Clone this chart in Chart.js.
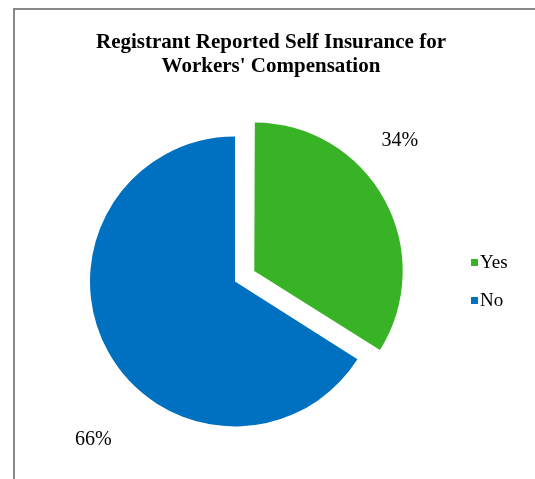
<!DOCTYPE html>
<html>
<head>
<meta charset="utf-8">
<script src="https://cdn.jsdelivr.net/npm/chart.js"></script>
<style>
  html, body { margin: 0; padding: 0; background: #fff; }
  #wrap { width: 535px; height: 479px; }
</style>
</head>
<body>
<div id="wrap"><canvas id="selfIns" width="535" height="479"></canvas></div>
<script>
var titleLines = ["Registrant Reported Self Insurance for", "Workers' Compensation"];
var categories = ['Yes', 'No'];
var shares = [34, 66];
var sliceColors = ['#38b326', '#0070c0'];
// arc offset option, in Chart.js units (the slice moves by a quarter of it)
var sliceOffsets = [88, 0];

// where each percent label sits: angle (deg, clockwise from top) and distance in radii
var labelAnchors = [
  { angle: 48, dist: 1.35 },
  { angle: 222, dist: 1.46 }
];

var serif = "'Liberation Serif', 'Times New Roman', serif";

var decor_plug = {
  beforeDraw: function(chart) {
    var ctx = chart.ctx;
    ctx.save();
    ctx.fillStyle = '#fff';
    ctx.fillRect(0, 0, chart.width, chart.height);
    // frame
    ctx.strokeStyle = '#888888';
    ctx.lineWidth = 2;
    ctx.strokeRect(14, 9, chart.width + 20, chart.height + 20);

    // title
    ctx.fillStyle = '#000';
    ctx.font = "bold 21px " + serif;
    ctx.textAlign = 'center';
    ctx.textBaseline = 'alphabetic';
    ctx.fillText(titleLines[0], 271, 48);
    ctx.fillText(titleLines[1], 271, 72);
    ctx.restore();
  },
  afterDraw: function(chart) {
    var ctx = chart.ctx;
    var meta = chart.getDatasetMeta(0);
    var total = shares.reduce(function(s, v) { return s + v; }, 0);
    ctx.save();

    // percent labels
    ctx.fillStyle = '#000';
    ctx.font = "20px " + serif;
    ctx.textAlign = 'center';
    ctx.textBaseline = 'middle';
    meta.data.forEach(function(arc, i) {
      var mid = (arc.startAngle + arc.endAngle) / 2;
      var off = sliceOffsets[i] / 4;
      var cx = arc.x + Math.cos(mid) * off;
      var cy = arc.y + Math.sin(mid) * off;
      var a = (labelAnchors[i].angle - 90) * Math.PI / 180;
      var r = arc.outerRadius * labelAnchors[i].dist;
      var pct = Math.round(shares[i] / total * 100) + '%';
      ctx.fillText(pct, cx + Math.cos(a) * r, cy + Math.sin(a) * r + 1);
    });

    // legend
    ctx.font = "19px " + serif;
    ctx.textAlign = 'left';
    ctx.textBaseline = 'alphabetic';
    categories.forEach(function(c, i) {
      var y = 259 + i * 38;
      ctx.fillStyle = sliceColors[i];
      ctx.fillRect(471, y, 7, 7);
      ctx.fillStyle = '#000';
      ctx.fillText(c, 480, y + 9);
    });
    ctx.restore();
  }
};

var ctx = document.getElementById('selfIns').getContext('2d');
var chart = new Chart(ctx, {
  type: 'pie',
  plugins: [decor_plug],
  data: {
    labels: categories,
    datasets: [{
      data: shares,
      backgroundColor: sliceColors,
      borderWidth: 0,
      offset: sliceOffsets
    }]
  },
  options: {
    responsive: false,
    animation: false,
    events: [],
    layout: {
      padding: { left: 46, right: 111, top: 92.5, bottom: 8.5 }
    },
    plugins: {
      legend: { display: false },
      title: { display: false },
      tooltip: { enabled: false }
    }
  }
});
</script>
</body>
</html>
